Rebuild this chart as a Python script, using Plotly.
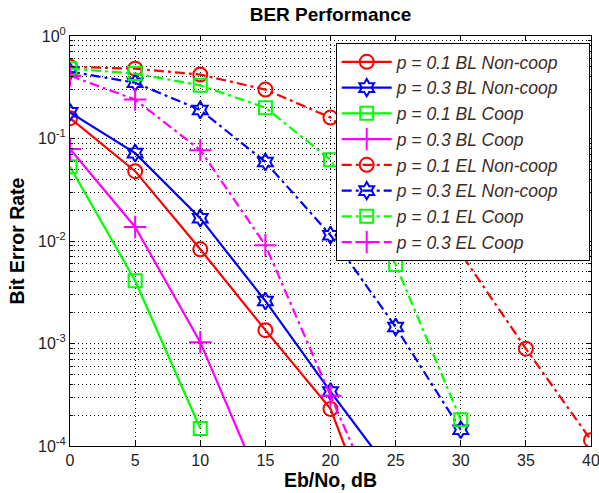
import plotly.graph_objects as go

snr = [0, 5, 10, 15, 20, 25, 30, 35, 40]

bl_noncoop_p01 = [0.158, 0.048, 0.0083, 0.00135, 0.00023, 0.000005]
bl_noncoop_p03 = [0.18, 0.072, 0.0167, 0.0026, 0.00034, 0.000048]
bl_coop_p01 = [0.053, 0.0041, 0.000148]
bl_coop_p03 = [0.079, 0.0137, 0.00103, 0.000033]
el_noncoop_p01 = [0.50, 0.48, 0.42, 0.30, 0.16, 0.05, 0.0076, 0.00089, 0.000114]
el_noncoop_p03 = [0.45, 0.35, 0.19, 0.059, 0.0114, 0.00145, 0.000144]
el_coop_p01 = [0.48, 0.43, 0.33, 0.20, 0.062, 0.0059, 0.00018]
el_coop_p03 = [0.41, 0.24, 0.077, 0.0091, 0.00031, 0.000011]

names = [
    "p = 0.1 BL Non-coop", "p = 0.3 BL Non-coop", "p = 0.1 BL Coop", "p = 0.3 BL Coop",
    "p = 0.1 EL Non-coop", "p = 0.3 EL Non-coop", "p = 0.1 EL Coop", "p = 0.3 EL Coop",
]
series = [bl_noncoop_p01, bl_noncoop_p03, bl_coop_p01, bl_coop_p03,
          el_noncoop_p01, el_noncoop_p03, el_coop_p01, el_coop_p03]
colors = ["#ff0000", "#0000ff", "#00ff00", "#ff00ff"] * 2
symbols = ["circle-open", "hexagram-open", "square-open", "cross-thin-open"] * 2
sizes = [14, 13, 13, 16] * 2
dashes = ["solid"] * 4 + ["10px,4px,3px,4px"] * 4

ytick_vals = [1e-4, 1e-3, 1e-2, 1e-1, 1e0]
ytick_text = ["10<sup>-4</sup>", "10<sup>-3</sup>", "10<sup>-2</sup>", "10<sup>-1</sup>", "10<sup>0</sup>"]
xtick_vals = [0, 5, 10, 15, 20, 25, 30, 35, 40]

pad = "\u00a0" * 5

fig = go.Figure()
for name, ys, c, s, sz, d in zip(names, series, colors, symbols, sizes, dashes):
    fig.add_trace(go.Scatter(
        x=snr[:len(ys)], y=ys, name=name + pad, mode="lines+markers",
        line=dict(color=c, width=2.2, dash=d),
        marker=dict(symbol=s, size=sz, color=c, line=dict(color=c, width=2)),
    ))

minor_vals = [m * 10 ** e for e in range(-4, 0) for m in range(2, 10)]

font_family = "Arial, Liberation Sans, sans-serif"
fig.update_layout(
    width=599, height=493,
    margin=dict(l=70, r=8, t=36, b=47),
    paper_bgcolor="white", plot_bgcolor="white",
    font=dict(family=font_family, color="black", size=14),
    title=dict(text="<b>BER Performance</b>", x=0.5, xref="paper", y=1 - 14 / 493,
               yanchor="middle", font=dict(size=19, color="black")),
    showlegend=True,
    legend=dict(x=0.51, y=0.983, xanchor="left", yanchor="top",
                bgcolor="white", bordercolor="black", borderwidth=1,
                font=dict(size=17.5, style="italic", color="#3d2b1f"),
                itemwidth=50, tracegroupgap=0),
)
fig.update_xaxes(
    range=[0, 40], tickvals=xtick_vals, showline=True, linecolor="black", linewidth=1,
    mirror="allticks", ticks="inside", ticklen=5, tickcolor="black",
    showgrid=True, gridcolor="black", griddash="1px,3px", gridwidth=1, zeroline=False,
    title=dict(text="<b>Eb/No, dB</b>", font=dict(size=19.5), standoff=3),
    tickfont=dict(size=16, color="#222222"), automargin=False, ticklabeloverflow="allow",
)
fig.update_yaxes(
    type="log", range=[-4, 0], tickvals=ytick_vals, ticktext=ytick_text,
    showline=True, linecolor="black", linewidth=1, mirror="allticks",
    ticks="inside", ticklen=5, tickcolor="black",
    showgrid=True, gridcolor="black", griddash="1px,3px", gridwidth=1, zeroline=False,
    minor=dict(tickmode="array", tickvals=minor_vals, ticks="inside", ticklen=3,
               tickcolor="black", showgrid=True, gridcolor="black", griddash="1px,3px", gridwidth=1),
    title=dict(text="<b>Bit Error Rate</b>", font=dict(size=19.5), standoff=8),
    tickfont=dict(size=16, color="#222222"), automargin=False, ticklabeloverflow="allow",
)

fig.write_html("out.html", config={"displayModeBar": False},
               post_script="document.body.style.margin='0';")
